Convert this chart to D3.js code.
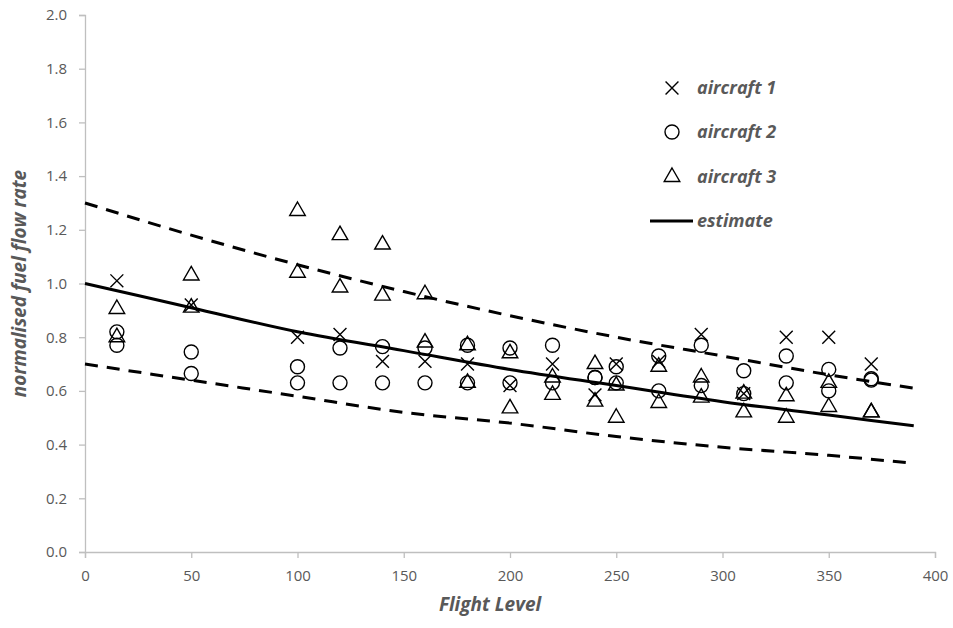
<!DOCTYPE html>
<html>
<head>
<meta charset="utf-8">
<title>fuel flow</title>
<script src="https://cdn.jsdelivr.net/npm/d3@7"></script>
<style>
  body { margin: 0; background: #fff; }
  text { font-family: "Open Sans", "Noto Sans", sans-serif; }
</style>
</head>
<body>
<div id="container"></div>
<script>
// flight levels and read values
var ac1Level = [15, 50, 100, 120, 140, 160, 180, 200, 220, 240, 250, 270, 290, 310, 330, 350, 370];
var ac1Rate  = [1.01, 0.92, 0.80, 0.81, 0.71, 0.71, 0.70, 0.62, 0.70, 0.585, 0.70, 0.71, 0.81, 0.59, 0.80, 0.80, 0.70];

var ac2Level = [15, 15, 50, 50, 100, 100, 120, 120, 140, 140, 160, 160, 180, 180, 200, 200, 220, 220, 240, 240, 250, 250, 270, 270, 290, 290, 310, 310, 330, 330, 350, 350, 370, 370];
var ac2Rate  = [0.82, 0.77, 0.745, 0.665, 0.69, 0.63, 0.76, 0.63, 0.765, 0.63, 0.76, 0.63, 0.77, 0.63, 0.76, 0.63, 0.77, 0.63, 0.65, 0.65, 0.69, 0.63, 0.73, 0.60, 0.77, 0.62, 0.675, 0.59, 0.73, 0.63, 0.68, 0.60, 0.645, 0.64];

var ac3Level = [15, 15, 50, 50, 100, 100, 120, 120, 140, 140, 160, 160, 180, 180, 200, 200, 220, 220, 240, 240, 250, 250, 270, 270, 290, 290, 310, 310, 330, 330, 350, 350, 370, 370];
var ac3Rate  = [0.905, 0.80, 1.03, 0.91, 1.27, 1.04, 1.18, 0.985, 1.145, 0.955, 0.96, 0.78, 0.77, 0.63, 0.74, 0.535, 0.65, 0.585, 0.70, 0.56, 0.62, 0.50, 0.69, 0.555, 0.65, 0.575, 0.59, 0.52, 0.58, 0.50, 0.63, 0.54, 0.52, 0.52];

// estimate curve and its bands, read along the x axis
var estLevel = [0, 50, 100, 150, 200, 250, 300, 350, 390];
var estRate  = [1.00, 0.91, 0.82, 0.75, 0.68, 0.62, 0.56, 0.51, 0.47];
var upperRate = [1.30, 1.18, 1.07, 0.97, 0.88, 0.80, 0.73, 0.66, 0.61];
var lowerRate = [0.70, 0.64, 0.58, 0.52, 0.48, 0.43, 0.39, 0.36, 0.33];

var xTicks = [0, 50, 100, 150, 200, 250, 300, 350, 400];
var yTicks = [0.0, 0.2, 0.4, 0.6, 0.8, 1.0, 1.2, 1.4, 1.6, 1.8, 2.0];
var legendNames = ["aircraft 1", "aircraft 2", "aircraft 3", "estimate"];

var width = 953, height = 628;
var margin = {top: 15, right: 18, bottom: 76, left: 85};
var w = width - margin.left - margin.right,
    h = height - margin.top - margin.bottom;

var svg = d3.select("#container").append("svg")
    .attr("width", width)
    .attr("height", height);
var g = svg.append("g")
    .attr("transform", "translate(" + margin.left + "," + margin.top + ")");

var x = d3.scaleLinear().domain([0, 400]).range([0, w]);
var y = d3.scaleLinear().domain([0, 2]).range([h, 0]);

var grey = "#bfbfbf", txt = "#595959";

// axes
var xAxis = g.append("g")
    .attr("transform", "translate(0," + h + ")")
    .call(d3.axisBottom(x).tickValues(xTicks).tickSize(6).tickPadding(12).tickFormat(d3.format("d")));
var yAxis = g.append("g")
    .call(d3.axisLeft(y).tickValues(yTicks).tickSize(6).tickPadding(12).tickFormat(d3.format(".1f")));
[xAxis, yAxis].forEach(function(a) {
  a.select(".domain").attr("stroke", grey).attr("stroke-width", 1.3);
  a.selectAll(".tick line").attr("stroke", grey).attr("stroke-width", 1.3);
  a.selectAll(".tick text").attr("fill", txt).style("font-size", "15px")
    .style("font-family", "'Open Sans', sans-serif");
});

// axis titles
svg.append("text")
    .attr("x", 490).attr("y", 611)
    .attr("text-anchor", "middle")
    .style("font-size", "19px").style("font-weight", "bold").style("font-style", "italic")
    .attr("fill", txt)
    .text("Flight Level");
svg.append("text")
    .attr("transform", "translate(26," + (margin.top + h / 2) + ") rotate(-90)")
    .attr("text-anchor", "middle")
    .style("font-size", "19px").style("font-weight", "bold").style("font-style", "italic")
    .attr("fill", txt)
    .text("normalised fuel flow rate");

// lines
var line = d3.line()
    .x(function(d) { return x(d[0]); })
    .y(function(d) { return y(d[1]); })
    .curve(d3.curveMonotoneX);

function drawLine(vals, dashed) {
  g.append("path")
    .datum(d3.zip(estLevel, vals))
    .attr("d", line)
    .attr("fill", "none")
    .attr("stroke", "#000")
    .attr("stroke-width", 3)
    .attr("stroke-dasharray", dashed ? "13,9" : null);
}
drawLine(upperRate, true);
drawLine(lowerRate, true);
drawLine(estRate, false);

// markers
var cross = d3.symbol().type(d3.symbolX).size(110);
var tri = d3.symbol().type(d3.symbolTriangle).size(105);

function drawMarks(levels, rates, kind) {
  var sel = g.append("g").selectAll("path")
    .data(d3.zip(levels, rates))
    .enter();
  if (kind == "circle") {
    sel.append("circle")
      .attr("cx", function(d) { return x(d[0]); })
      .attr("cy", function(d) { return y(d[1]); })
      .attr("r", 7)
      .attr("fill", "none").attr("stroke", "#000").attr("stroke-width", 1.4);
  } else {
    sel.append("path")
      .attr("d", kind == "cross" ? cross : tri)
      .attr("transform", function(d) { return "translate(" + x(d[0]) + "," + y(d[1]) + ")"; })
      .attr("fill", "none").attr("stroke", "#000").attr("stroke-width", 1.4);
  }
}
drawMarks(ac1Level, ac1Rate, "cross");
drawMarks(ac2Level, ac2Rate, "circle");
drawMarks(ac3Level, ac3Rate, "tri");

// legend
var leg = svg.append("g");
var legY = [88, 132, 177, 221];
legendNames.forEach(function(name, i) {
  var cy = legY[i];
  if (i == 0) {
    leg.append("path").attr("d", cross).attr("transform", "translate(672," + cy + ")")
      .attr("fill", "none").attr("stroke", "#000").attr("stroke-width", 1.4);
  } else if (i == 1) {
    leg.append("circle").attr("cx", 672).attr("cy", cy).attr("r", 7)
      .attr("fill", "none").attr("stroke", "#000").attr("stroke-width", 1.4);
  } else if (i == 2) {
    leg.append("path").attr("d", tri).attr("transform", "translate(672," + cy + ")")
      .attr("fill", "none").attr("stroke", "#000").attr("stroke-width", 1.4);
  } else {
    leg.append("line").attr("x1", 650).attr("x2", 693).attr("y1", cy).attr("y2", cy)
      .attr("stroke", "#000").attr("stroke-width", 3);
  }
  leg.append("text")
    .attr("x", 697).attr("y", cy + 6)
    .style("font-size", "18px").style("font-weight", "bold").style("font-style", "italic")
    .attr("fill", txt)
    .text(name);
});
</script>
</body>
</html>
